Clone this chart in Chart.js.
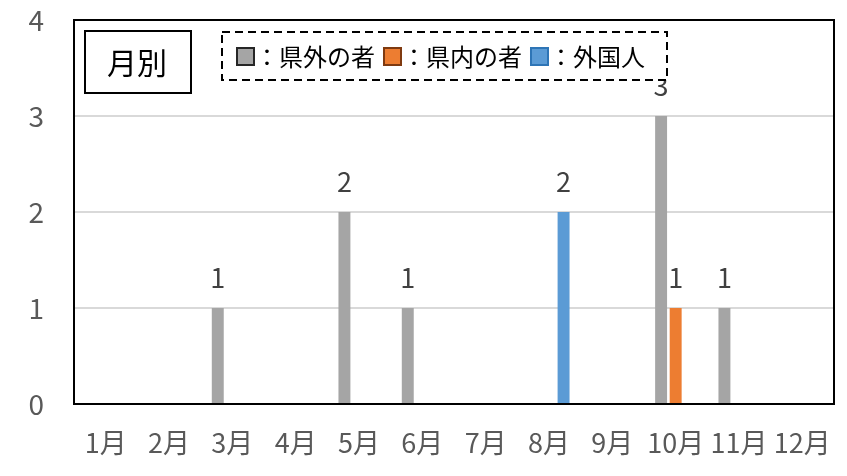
<!DOCTYPE html>
<html>
<head>
<meta charset="utf-8">
<script src="https://cdn.jsdelivr.net/npm/chart.js@4/dist/chart.umd.min.js"></script>
<style>
  html, body { margin: 0; padding: 0; background: #fff; }
  #wrap { position: relative; width: 847px; height: 476px; }
</style>
</head>
<body>
<div id="wrap"><canvas id="c"></canvas></div>
<script>
const months = ['1月','2月','3月','4月','5月','6月','7月','8月','9月','10月','11月','12月'];
const seriesNames = ['県外の者', '県内の者', '外国人'];
const outsidePref = [0,0,1,0,2,1,0,0,0,3,1,0];
const insidePref  = [0,0,0,0,0,0,0,0,0,1,0,0];
const foreigners  = [0,0,0,0,0,0,0,2,0,0,0,0];
const yTicks = [0,1,2,3,4];
const chartTitle = '月別';

const colors = ['#A5A5A5', '#ED7D31', '#5B9BD5'];
const borderColors = ['#262626', '#7F3A10', '#2E75B6'];
const FONT = '"Noto Sans CJK JP", "Noto Sans", sans-serif';

const overlayPlugin = {
  id: 'overlay',
  afterDatasetsDraw(chart) {
    const ctx = chart.ctx;
    const a = chart.chartArea;
    ctx.save();
    ctx.font = '27px ' + FONT;
    ctx.fillStyle = '#404040';
    ctx.textAlign = 'center';
    ctx.textBaseline = 'alphabetic';
    chart.data.datasets.forEach((ds, i) => {
      const meta = chart.getDatasetMeta(i);
      meta.data.forEach((bar, j) => {
        const v = ds.data[j];
        if (v) ctx.fillText(String(v), bar.x, bar.y - 20);
      });
    });
    ctx.restore();
    ctx.save();
    ctx.strokeStyle = '#000';
    ctx.lineWidth = 2;
    ctx.strokeRect(a.left, a.top, a.right - a.left, a.bottom - a.top);
    ctx.restore();
  },
  afterDraw(chart) {
    const ctx = chart.ctx;
    ctx.save();
    ctx.fillStyle = '#fff';
    ctx.fillRect(85, 31, 106, 62);
    ctx.strokeStyle = '#000';
    ctx.lineWidth = 2;
    ctx.strokeRect(85, 31, 106, 62);
    ctx.fillStyle = '#000';
    ctx.font = '30px ' + FONT;
    ctx.textAlign = 'center';
    ctx.textBaseline = 'middle';
    ctx.fillText(chartTitle, 137, 63);
    ctx.fillStyle = '#fff';
    ctx.fillRect(222, 32, 445, 48);
    ctx.setLineDash([8, 5]);
    ctx.strokeStyle = '#000';
    ctx.lineWidth = 2;
    ctx.strokeRect(222, 32, 445, 48);
    ctx.setLineDash([]);
    ctx.font = '24px ' + FONT;
    ctx.textAlign = 'left';
    ctx.textBaseline = 'middle';
    let x = 237;
    const cy = 56;
    seriesNames.forEach((name, i) => {
      ctx.fillStyle = colors[i];
      ctx.fillRect(x, cy - 8, 17, 17);
      ctx.strokeStyle = borderColors[i];
      ctx.lineWidth = 2;
      ctx.strokeRect(x, cy - 8, 17, 17);
      x += 18;
      ctx.fillStyle = '#000';
      const t = '：' + name;
      ctx.fillText(t, x, cy + 1);
      x += ctx.measureText(t).width + 9;
    });
    ctx.restore();
  }
};

new Chart(document.getElementById('c'), {
  type: 'bar',
  data: {
    labels: months,
    datasets: [
      { label: seriesNames[0], data: outsidePref, backgroundColor: colors[0] },
      { label: seriesNames[1], data: insidePref, backgroundColor: colors[1] },
      { label: seriesNames[2], data: foreigners, backgroundColor: colors[2] }
    ]
  },
  options: {
    responsive: true,
    maintainAspectRatio: false,
    animation: false,
    devicePixelRatio: 1,
    layout: { padding: { top: 20, right: 13, left: 0, bottom: 0 } },
    datasets: { bar: { categoryPercentage: 0.69, barPercentage: 0.82 } },
    plugins: { legend: { display: false }, tooltip: { enabled: false } },
    scales: {
      x: {
        grid: { display: false, drawTicks: false, tickLength: 0 },
        border: { display: false },
        ticks: { color: '#595959', font: { family: FONT, size: 27, lineHeight: 1 }, padding: 25, maxRotation: 0, minRotation: 0, autoSkip: false },
        afterFit(scale) { scale.height = 72; scale.paddingLeft = 0; scale.paddingRight = 0; }
      },
      y: {
        min: 0, max: 4,
        afterBuildTicks(scale) { scale.ticks = yTicks.map(v => ({ value: v })); },
        grid: { color: '#D9D9D9', lineWidth: 2, drawTicks: false, tickLength: 0 },
        border: { display: false },
        ticks: { color: '#595959', font: { family: FONT, size: 28 }, padding: 30 },
        afterFit(scale) { scale.width = 74; scale.paddingTop = 0; scale.paddingBottom = 0; }
      }
    }
  },
  plugins: [overlayPlugin]
});
</script>
</body>
</html>
